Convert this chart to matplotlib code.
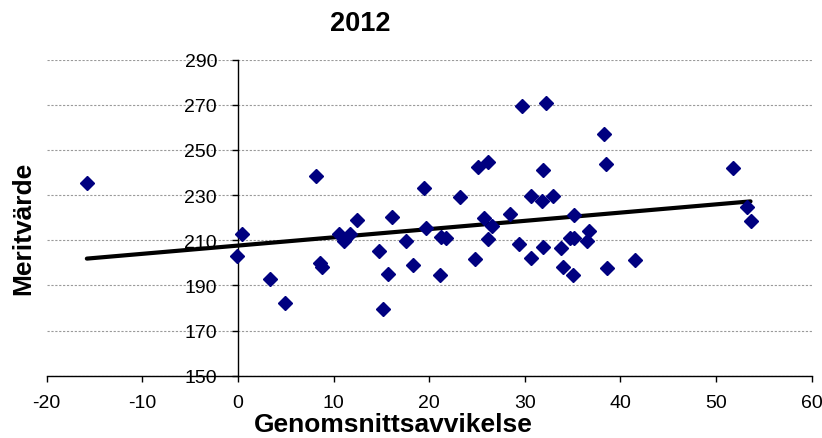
import numpy as np
import matplotlib
matplotlib.use('Agg')
import matplotlib.pyplot as plt

# Genomsnittsavvikelse (x) och Meritvärde (y)
avvikelse = [
    -15.8, 0.4, -0.1, 3.3, 4.9, 8.2, 8.6, 8.8, 10.6, 11.1,
    11.7, 12.5, 14.7, 15.7, 15.2, 16.1, 17.6, 18.3, 19.5, 19.7,
    21.2, 21.8, 21.1, 23.2, 24.8, 25.1, 26.2, 25.7, 26.6, 26.1,
    28.5, 29.4, 29.7, 30.6, 30.6, 31.8, 31.9, 31.9, 32.2, 32.9,
    33.8, 34.0, 34.7, 35.1, 35.0, 35.1, 36.5, 36.7, 38.3, 38.5,
    38.6, 41.5, 51.8, 53.2, 53.6,
]
meritvarde = [
    235.4, 212.8, 202.9, 192.8, 182.0, 238.3, 199.9, 198.0, 212.8, 209.6,
    212.8, 219.0, 205.4, 195.0, 179.4, 220.1, 209.9, 199.0, 233.1, 215.4,
    211.4, 211.0, 194.4, 229.3, 201.6, 242.3, 244.8, 219.8, 216.2, 210.5,
    221.5, 208.2, 269.6, 229.7, 202.3, 227.4, 241.2, 207.2, 270.8, 229.7,
    206.6, 198.0, 211.2, 210.9, 194.4, 221.2, 209.8, 213.9, 257.1, 243.8,
    197.5, 201.4, 241.9, 224.6, 218.7,
]

x = np.array(avvikelse)
y = np.array(meritvarde)

# linjär trendlinje som i Excel
k, m = np.polyfit(x, y, 1)
trend_x = np.array([x.min(), x.max()])
trend_y = k * trend_x + m

plt.rcParams['font.family'] = ['Liberation Sans', 'DejaVu Sans']
plt.rcParams['axes.unicode_minus'] = False

fig = plt.figure(figsize=(8.22, 4.39), dpi=100)
ax = fig.add_axes([0.0568, 0.1419, 0.9307, 0.7198])

ax.plot(trend_x, trend_y, color='black', linewidth=3, solid_capstyle='round', zorder=3)
ax.plot(x, y, linestyle='none', marker='D', markersize=7.2,
        color='#000080', markeredgecolor='#000080', zorder=4)

ax.set_xlim(-20, 60)
ax.set_ylim(150, 290)
ax.set_xticks(np.arange(-20, 61, 10))
ax.set_yticks(np.arange(150, 291, 20))

ax.grid(axis='y', color='#9a9a9a', linestyle=(0, (2, 1.5)), linewidth=0.8, zorder=0)
ax.set_axisbelow(True)

ax.spines['top'].set_visible(False)
ax.spines['right'].set_visible(False)
ax.spines['left'].set_position(('data', 0))
ax.spines['left'].set_linewidth(1)
ax.spines['bottom'].set_linewidth(1)

ax.tick_params(axis='x', direction='out', length=4, width=1, pad=9, labelsize=14)
ax.tick_params(axis='y', direction='out', length=4, width=1, pad=11, labelsize=14)

fig.text(0.438, 0.93, '2012', ha='center', va='baseline', fontsize=19.5, fontweight='bold')
fig.text(0.478, 0.005, 'Genomsnittsavvikelse', ha='center', va='bottom', fontsize=19, fontweight='bold')
fig.text(0.028, 0.48, 'Meritvärde', ha='center', va='center', rotation=90, fontsize=19, fontweight='bold')

fig.savefig('out.png', dpi=100)
